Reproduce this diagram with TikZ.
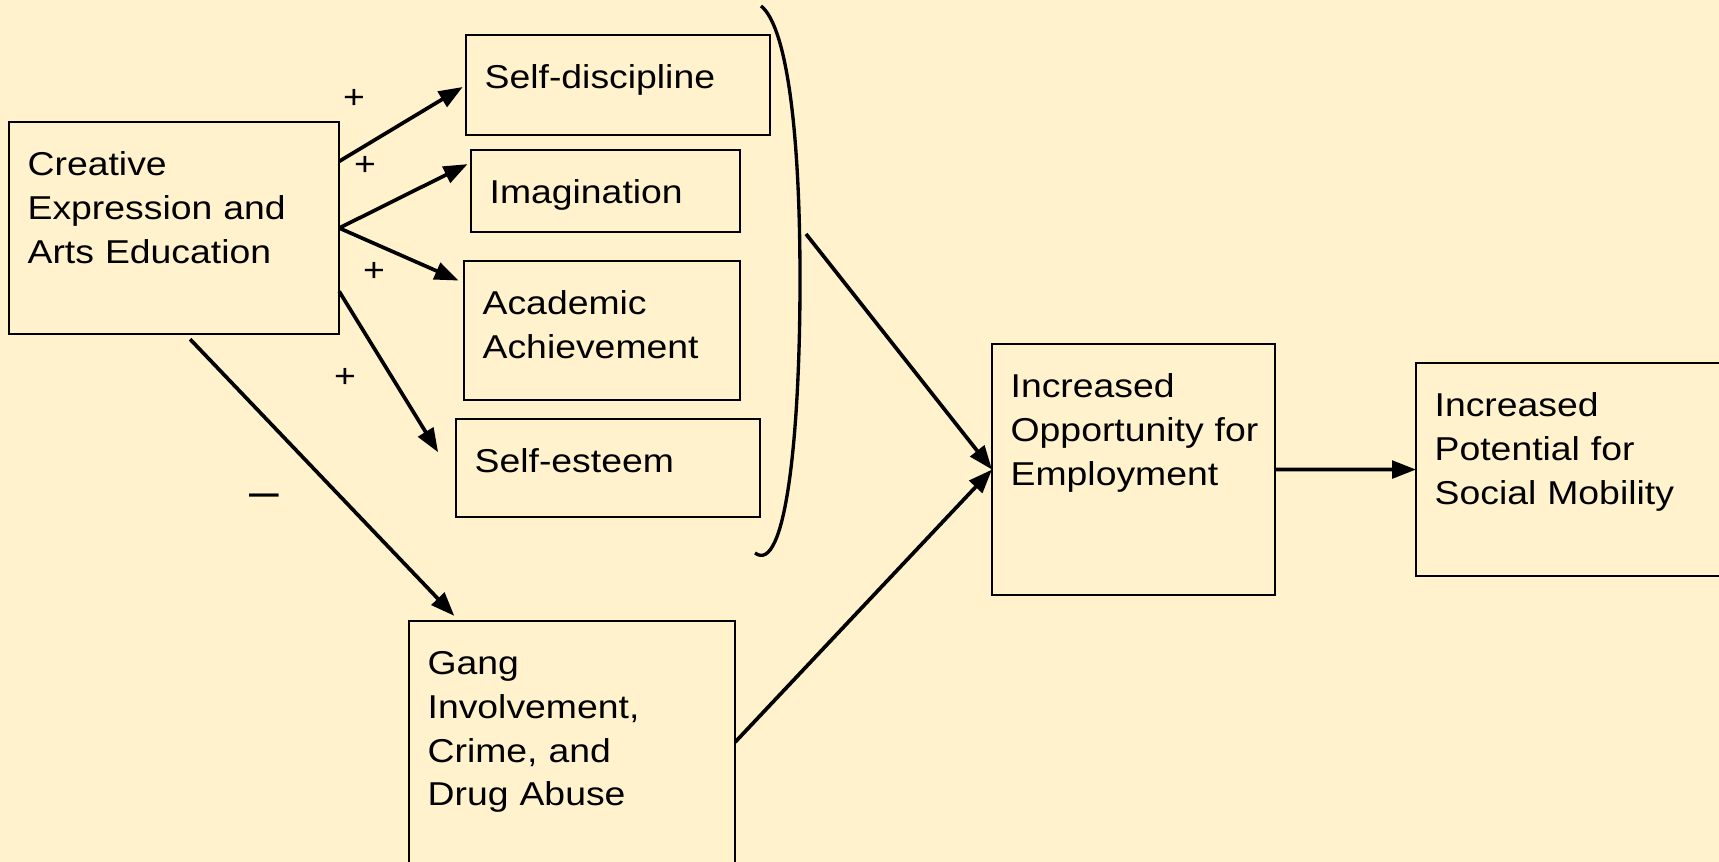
\documentclass[tikz,border=0pt]{standalone}
\usepackage{fontspec}
\setmainfont{Liberation Sans}[FakeStretch=1.13]
\usepackage{xcolor}
\usetikzlibrary{arrows.meta}
\definecolor{cream}{HTML}{FFF2CC}

\begin{document}
\begin{tikzpicture}[x=0.01cm, y=-0.01cm,
  every node/.style={font=\fontsize{9.4pt}{12.5pt}\selectfont},
  factor/.style={draw, rectangle, anchor=north west, inner sep=0pt, outer sep=0pt, line width=0.55pt},
  factortext/.style={anchor=base west, align=left, text width=#1, inner sep=0pt, xshift=5.1pt, yshift=-15.1pt},
  effect/.style={-{Triangle[length=6.8pt,width=5pt]}, line width=1.05pt},
  sign/.style={inner sep=0pt}]
\path[use as bounding box, fill=cream] (0,0) rectangle (1719,862);

\node[factor, minimum width=3.30cm, minimum height=2.12cm, label={[factortext=3.0cm]north west:{Creative\\Expression and\\Arts Education}}] (creative) at (9,122) {};
\node[factor, minimum width=3.04cm, minimum height=1.00cm, label={[factortext=2.8cm]north west:{Self-discipline}}] (selfdisc) at (466,35) {};
\node[factor, minimum width=2.69cm, minimum height=0.82cm, label={[factortext=2.5cm]north west:{Imagination}}] (imag) at (471,150) {};
\node[factor, minimum width=2.76cm, minimum height=1.39cm, label={[factortext=2.6cm]north west:{Academic\\Achievement}}] (acad) at (464,261) {};
\node[factor, minimum width=3.04cm, minimum height=0.98cm, label={[factortext=2.8cm]north west:{Self-esteem}}] (esteem) at (456,419) {};
\node[factor, minimum width=3.26cm, minimum height=2.42cm, label={[factortext=3.0cm]north west:{Gang\\Involvement,\\Crime, and\\Drug Abuse}}] (gang) at (409,621) {};
\node[factor, minimum width=2.83cm, minimum height=2.51cm, label={[factortext=2.6cm]north west:{Increased\\Opportunity for\\Employment}}] (opp) at (992,344) {};
\node[factor, minimum width=3.20cm, minimum height=2.13cm, label={[factortext=2.9cm]north west:{Increased\\Potential for\\Social Mobility}}] (pot) at (1416,363) {};

\node[sign] (plus1) at (354,99) {+};
\node[sign] (plus2) at (365,166) {+};
\node[sign] (plus3) at (374,272) {+};
\node[sign] (plus4) at (345,378) {+};
\node[sign, font=\fontsize{13.4pt}{14pt}\selectfont] (minus) at (264,501) {\textendash};

\draw[line width=0.95pt] (761,6) .. controls (785,25) and (800,120) .. (800,280) .. controls (800,440) and (785,575) .. (755,553);
\coordinate (brk) at (806,234);

\draw[effect, shorten >=1.1pt] (creative.22) -- (selfdisc.west);
\draw[effect, shorten >=1.1pt] (creative.east) -- (imag.168);
\draw[effect, shorten >=1.7pt] (creative.east) -- (acad.161);
\draw[effect, shorten >=9.7pt] (creative.-21) -- (esteem.185);
\draw[effect, shorten <=2pt, shorten >=2pt] (creative.-84) -- (gang.133);
\draw[effect] (brk) -- (opp.west);
\draw[effect] (gang.east) -- (opp.west);
\draw[effect] (opp.east) -- (pot.west);
\end{tikzpicture}
\end{document}
